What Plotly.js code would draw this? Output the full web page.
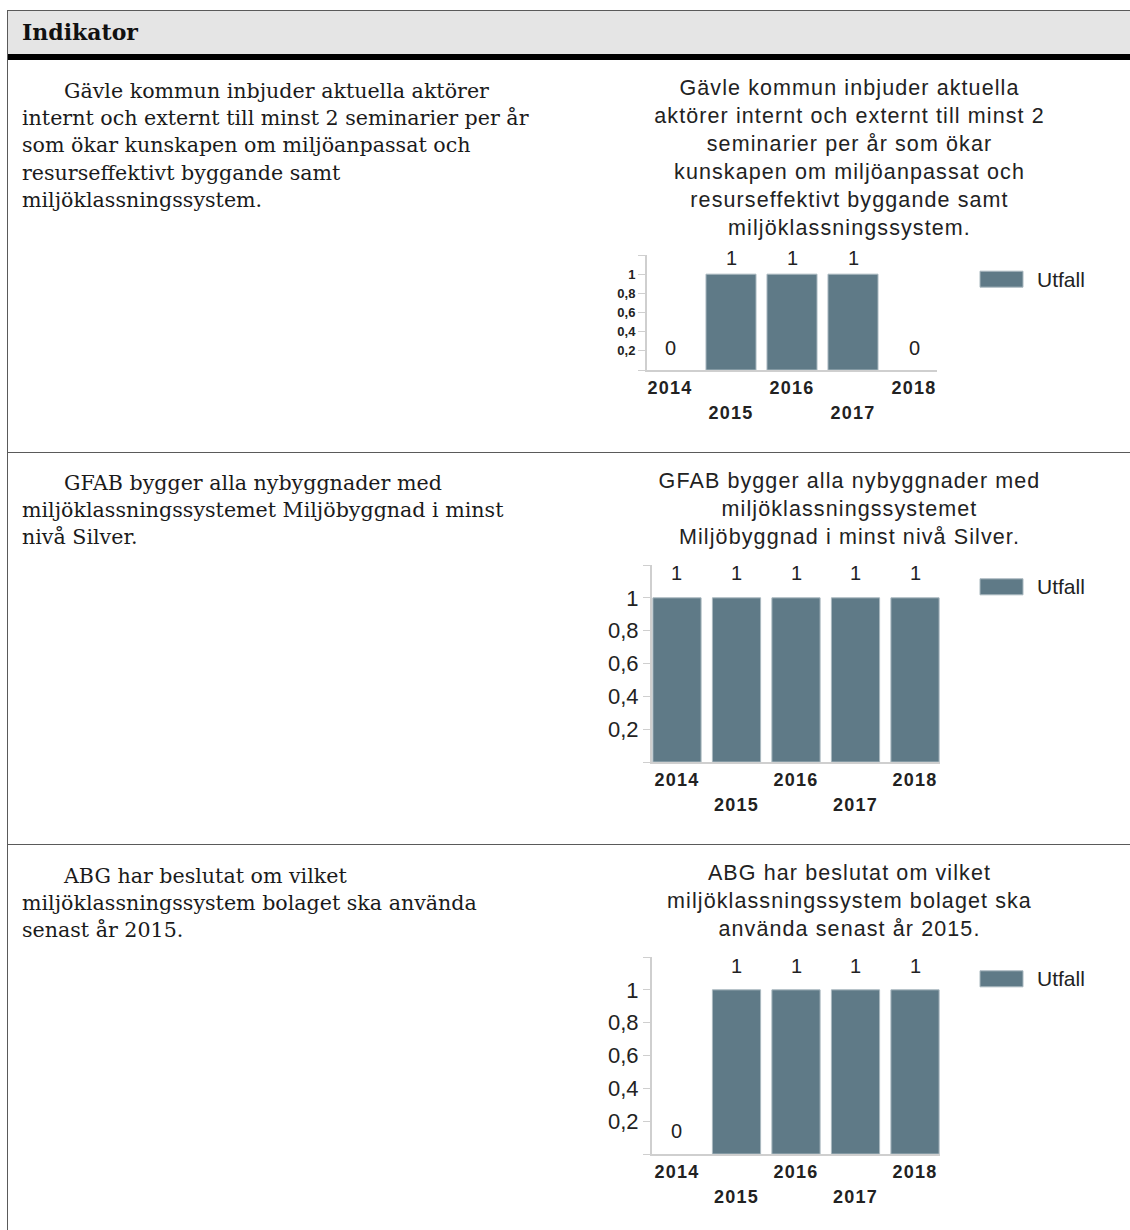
<!DOCTYPE html>
<html>
<head>
<meta charset="utf-8">
<script src="https://cdn.plot.ly/plotly-3.0.1.min.js"></script>
<style>
  html, body { margin:0; padding:0; background:#fff; }
  body { width:1130px; height:1230px; overflow:hidden; position:relative; }
  .tbl { position:absolute; left:7px; top:10px; width:1200px; height:1300px;
         border-left:1px solid #5a5a5a; border-top:1px solid #5a5a5a; }
  .hdr { position:absolute; left:8px; top:11px; width:1200px; height:43px; background:#e5e5e5;
         border-bottom:6px solid #000; }
  .hdr span { position:absolute; left:14px; top:8px; font-family:"DejaVu Serif", serif;
              font-weight:bold; font-size:22px; color:#111; }
  .sep { position:absolute; left:8px; width:1200px; height:1px; background:#5a5a5a; }
  .txt { position:absolute; left:22px; width:540px; font-family:"DejaVu Serif", serif;
         font-size:20.6px; line-height:27.3px; color:#1a1a1a; text-indent:42px; }
  .chart { position:absolute; left:590px; width:530px; }
  .gtitle { letter-spacing:1.1px; }
  .xtick text, .x2tick text { letter-spacing:1.2px; }
</style>
</head>
<body>
<div class="tbl"></div>
<div class="hdr"><span>Indikator</span></div>
<div class="sep" style="top:452px"></div>
<div class="sep" style="top:844px"></div>

<div class="txt" style="top:77.7px">Gävle kommun inbjuder aktuella aktörer<br>internt och externt till minst 2 seminarier per år<br>som ökar kunskapen om miljöanpassat och<br>resurseffektivt byggande samt<br>miljöklassningssystem.</div>
<div class="txt" style="top:469.7px">GFAB bygger alla nybyggnader med<br>miljöklassningssystemet Miljöbyggnad i minst<br>nivå Silver.</div>
<div class="txt" style="top:862.7px">ABG har beslutat om vilket<br>miljöklassningssystem bolaget ska använda<br>senast år 2015.</div>

<div id="c1" class="chart" style="top:62px;height:385px"></div>
<div id="c2" class="chart" style="top:455px;height:385px"></div>
<div id="c3" class="chart" style="top:847px;height:383px"></div>

<script>
// ---- data ----
const years = [2014, 2015, 2016, 2017, 2018];
const utfall1 = [0, 1, 1, 1, 0];
const utfall2 = [1, 1, 1, 1, 1];
const utfall3 = [0, 1, 1, 1, 1];
const seriesName = 'Utfall';
const title1 = 'Gävle kommun inbjuder aktuella<br>aktörer internt och externt till minst 2<br>seminarier per år som ökar<br>kunskapen om miljöanpassat och<br>resurseffektivt byggande samt<br>miljöklassningssystem.';
const title2 = 'GFAB bygger alla nybyggnader med<br>miljöklassningssystemet<br>Miljöbyggnad i minst nivå Silver.';
const title3 = 'ABG har beslutat om vilket<br>miljöklassningssystem bolaget ska<br>använda senast år 2015.';
const xTickRow1 = [2014, 2016, 2018];
const xTickRow2 = [2015, 2017];
const yTickVals = [0, 0.2, 0.4, 0.6, 0.8, 1, 1.2];
const yTickText = ['', '0,2', '0,4', '0,6', '0,8', '1', ''];

const BAR = '#5f7a87';
const TXT = '#222';
const FONT = 'Liberation Sans, Arial, sans-serif';

function makeChart(id, vals, title, c) {
  const px2x = p => (p - c.l) / c.plotW;
  const px2y = p => 1 - (p - c.t) / c.plotH;
  const ann = vals.map((v, i) => ({
    x: years[i], y: v, xref: 'x', yref: 'y', text: String(v), showarrow: false,
    yanchor: 'middle', yshift: v > 0 ? c.shiftOne : c.shiftZero,
    font: {family: FONT, size: 20, color: TXT}
  }));
  ann.push({
    x: px2x(c.leg.tx), y: px2y(c.leg.ty), xref: 'paper', yref: 'paper', text: seriesName,
    showarrow: false, xanchor: 'left', yanchor: 'middle',
    font: {family: FONT, size: 21, color: TXT}
  });
  const tickFont = {family: FONT, size: 18, color: TXT, weight: 'bold'};
  const layout = {
    width: 530, height: c.h,
    margin: {l: c.l, r: 530 - c.l - c.plotW, t: c.t, b: c.h - c.t - c.plotH, pad: 0},
    paper_bgcolor: 'rgba(0,0,0,0)', plot_bgcolor: 'rgba(0,0,0,0)',
    showlegend: false, bargap: c.bargap,
    title: {text: title, xref: 'container', yref: 'container', x: 0.4896, xanchor: 'center',
            y: 1 - 33 / c.h, yanchor: 'top', font: {family: FONT, size: 21.5, color: TXT}},
    xaxis: {type: 'linear', range: c.xr, tickvals: xTickRow1, ticktext: xTickRow1.map(String),
            showline: true, linecolor: '#cfcfcf', linewidth: 2, ticks: '', showgrid: false,
            zeroline: false, ticklabelstandoff: 0, tickfont: tickFont},
    xaxis2: {type: 'linear', range: c.xr, overlaying: 'x', anchor: 'y', side: 'bottom',
             tickvals: xTickRow2, ticktext: xTickRow2.map(String),
             showline: false, ticks: '', showgrid: false, zeroline: false, ticklabelstandoff: 30,
             tickfont: tickFont},
    yaxis: {range: [0, 1.2], tickvals: yTickVals, ticktext: yTickText, ticks: 'outside',
            ticklen: 7, tickcolor: '#cfcfcf', tickwidth: 1, showline: true, linecolor: '#cfcfcf',
            linewidth: 2, showgrid: false, zeroline: false, ticklabelstandoff: c.yStand,
            tickfont: c.yFont},
    shapes: [{type: 'rect', xref: 'paper', yref: 'paper',
              x0: px2x(c.leg.x0), x1: px2x(c.leg.x1), y0: px2y(c.leg.y1), y1: px2y(c.leg.y0),
              fillcolor: BAR, line: {color: '#a9b8bf', width: 1}}],
    annotations: ann
  };
  const trace = {type: 'bar', x: years, y: vals, name: seriesName,
                 marker: {color: BAR, line: {color: '#a9b8bf', width: vals.map(v => v > 0 ? 1 : 0)}}};
  // invisible companion trace so the second (staggered) tick row axis is drawn
  const anchorTrace = {type: 'scatter', x: years, y: vals, xaxis: 'x2', yaxis: 'y',
                       mode: 'none', showlegend: false, hoverinfo: 'skip'};
  Plotly.newPlot(id, [trace, anchorTrace], layout, {staticPlot: true, displayModeBar: false});
}

makeChart('c1', utfall1, title1, {
  h: 385, l: 57, plotW: 290, t: 192.8, plotH: 115.2, xr: [2014 - 0.377, 2018 + 0.377],
  bargap: 0.18, shiftOne: 16, shiftZero: 22, yStand: 0,
  yFont: {family: FONT, size: 13, color: TXT, weight: 'bold'},
  leg: {x0: 390, x1: 433, y0: 209, y1: 225, tx: 445, ty: 217}
});
makeChart('c2', utfall2, title2, {
  h: 385, l: 62, plotW: 288, t: 110.2, plotH: 196.8, xr: [2014 - 0.42, 2018 + 0.42],
  bargap: 0.19, shiftOne: 25, shiftZero: 23, yStand: 0,
  yFont: {family: FONT, size: 22, color: TXT},
  leg: {x0: 390, x1: 433, y0: 124, y1: 140, tx: 445, ty: 132}
});
makeChart('c3', utfall3, title3, {
  h: 383, l: 62, plotW: 288, t: 110.2, plotH: 196.8, xr: [2014 - 0.42, 2018 + 0.42],
  bargap: 0.19, shiftOne: 24, shiftZero: 23, yStand: 0,
  yFont: {family: FONT, size: 22, color: TXT},
  leg: {x0: 390, x1: 433, y0: 124, y1: 140, tx: 445, ty: 132}
});
</script>
</body>
</html>
